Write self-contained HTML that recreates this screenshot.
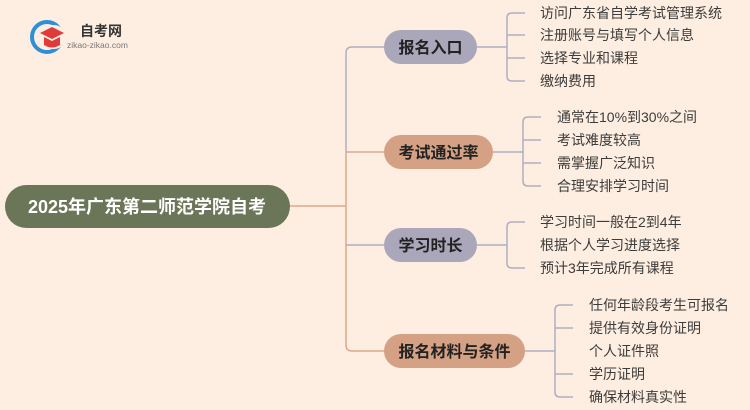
<!DOCTYPE html>
<html><head><meta charset="utf-8"><style>
html,body{margin:0;padding:0;background:#fdeee1;}
svg{display:block;font-family:"Liberation Sans","Noto Sans CJK SC",sans-serif;}
.leaf{font-size:14px;fill:#3c3c3c;}
.br{font-size:16px;font-weight:bold;fill:#222;}
</style></head><body>
<svg width="750" height="410" viewBox="0 0 750 410" xmlns="http://www.w3.org/2000/svg">
<rect width="750" height="410" fill="#fdeee1"/>
<!-- logo -->
<circle cx="47" cy="37" r="15" fill="none" stroke="#2f8fd6" stroke-width="4"/>
<circle cx="54" cy="37" r="12" fill="#fdeee1"/>
<path d="M40 33 L52 27 L64 33 L52 39 Z" fill="#e03a3a"/>
<path d="M44 37 L44 45 Q52 50 60 45 L60 37 L52 41 Z" fill="#e03a3a"/>
<text x="80" y="36" font-size="14" font-weight="bold" fill="#333">自考网</text>
<text x="67" y="48" font-size="8.5" fill="#777">zikao-zikao.com</text>
<!-- connectors -->
<g fill="none" stroke-width="1.5">
<path d="M290 206 H346" stroke="#dba98e"/>
<path d="M384 47 H352 Q346 47 346 53 V152" stroke="#aeadc2"/>
<path d="M346 152 V345 Q346 351 352 351 H384" stroke="#dba98e"/>
<path d="M346 152 H384" stroke="#dba98e"/>
<path d="M346 245 H384" stroke="#aeadc2"/>
<g stroke="#aeadc2">
<path d="M477 47 H507"/>
<path d="M525 13 H512 Q507 13 507 18 V76 Q507 81 512 81 H525"/>
<path d="M507 35 H525 M507 58 H525"/>
</g>
<g stroke="#aeadc2">
<path d="M493 152 H523"/>
<path d="M541 117 H528 Q523 117 523 122 V181 Q523 186 528 186 H541"/>
<path d="M523 140 H541 M523 163 H541"/>
</g>
<g stroke="#aeadc2">
<path d="M477 245 H507"/>
<path d="M525 222 H512 Q507 222 507 227 V263 Q507 268 512 268 H525"/>
</g>
<g stroke="#aeadc2">
<path d="M525 351 H555"/>
<path d="M573 305 H560 Q555 305 555 310 V392 Q555 397 560 397 H573"/>
<path d="M555 328 H573 M555 374 H573"/>
</g>
</g>
<!-- root -->
<rect x="5" y="185" width="285" height="43" rx="21.5" fill="#6b7558"/>
<text x="147" y="213" text-anchor="middle" font-size="18" font-weight="bold" fill="#fff">2025年广东第二师范学院自考</text>
<!-- branches -->
<rect x="384" y="30" width="93" height="34" rx="17" fill="#a9a7b9"/>
<text x="430.5" y="53" text-anchor="middle" class="br">报名入口</text>
<rect x="384" y="135" width="109" height="34" rx="17" fill="#d4a185"/>
<text x="438.5" y="158" text-anchor="middle" class="br">考试通过率</text>
<rect x="384" y="228" width="93" height="34" rx="17" fill="#a9a7b9"/>
<text x="430.5" y="251" text-anchor="middle" class="br">学习时长</text>
<rect x="384" y="334" width="141" height="34" rx="17" fill="#d4a185"/>
<text x="454.5" y="357" text-anchor="middle" class="br">报名材料与条件</text>
<!-- leaves -->
<text class="leaf" x="540" y="18">访问广东省自学考试管理系统</text>
<text class="leaf" x="540" y="40">注册账号与填写个人信息</text>
<text class="leaf" x="540" y="63">选择专业和课程</text>
<text class="leaf" x="540" y="86">缴纳费用</text>
<text class="leaf" x="557" y="122">通常在10%到30%之间</text>
<text class="leaf" x="557" y="145">考试难度较高</text>
<text class="leaf" x="557" y="168">需掌握广泛知识</text>
<text class="leaf" x="557" y="191">合理安排学习时间</text>
<text class="leaf" x="540" y="227">学习时间一般在2到4年</text>
<text class="leaf" x="540" y="250">根据个人学习进度选择</text>
<text class="leaf" x="540" y="273">预计3年完成所有课程</text>
<text class="leaf" x="589" y="310">任何年龄段考生可报名</text>
<text class="leaf" x="589" y="333">提供有效身份证明</text>
<text class="leaf" x="589" y="356">个人证件照</text>
<text class="leaf" x="589" y="379">学历证明</text>
<text class="leaf" x="589" y="402">确保材料真实性</text>
</svg>
</body></html>
